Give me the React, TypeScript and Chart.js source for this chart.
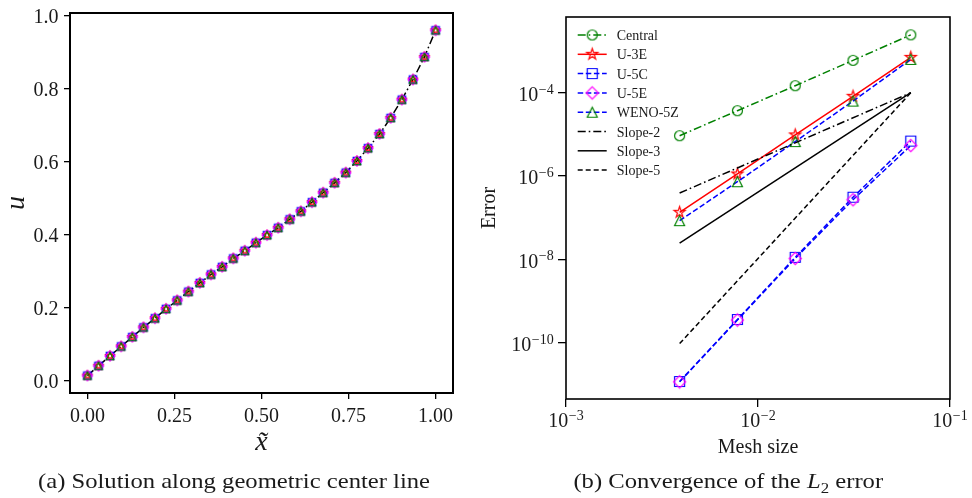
import React, { useEffect, useRef } from "react";
import { Chart, registerables } from "chart.js";

Chart.register(...registerables);

const SERIF = "'Liberation Serif', 'Times New Roman', serif";
const INK = "#1a1a1a";

// ---------- (a) solution along the geometric centre line ----------
const xTilde = [
  0.0, 0.032, 0.065, 0.097, 0.129, 0.161, 0.194, 0.226, 0.258, 0.29, 0.323,
  0.355, 0.387, 0.419, 0.452, 0.484, 0.516, 0.548, 0.581, 0.613, 0.645, 0.677,
  0.71, 0.742, 0.774, 0.806, 0.839, 0.871, 0.903, 0.935, 0.968, 1.0,
];
const uCentre = [
  0.014, 0.041, 0.068, 0.094, 0.12, 0.146, 0.171, 0.197, 0.22, 0.244, 0.268,
  0.291, 0.312, 0.335, 0.356, 0.378, 0.399, 0.419, 0.442, 0.464, 0.489, 0.515,
  0.542, 0.57, 0.602, 0.637, 0.676, 0.72, 0.77, 0.825, 0.887, 0.96,
];
const xTickValues = [0, 0.25, 0.5, 0.75, 1.0];
const xTickLabels = ["0.00", "0.25", "0.50", "0.75", "1.00"];
const uTickValues = [0, 0.2, 0.4, 0.6, 0.8, 1.0];
const uTickLabels = ["0.0", "0.2", "0.4", "0.6", "0.8", "1.0"];

// ---------- (b) convergence of the L2 error ----------
const meshSize = [0.00390625, 0.0078125, 0.015625, 0.03125, 0.0625];
const errCentral = [9.3e-6, 3.7e-5, 1.47e-4, 5.98e-4, 2.45e-3];
const errU3E = [1.35e-7, 1.12e-6, 9.7e-6, 8.2e-5, 7.06e-4];
const errU5C = [1.17e-11, 3.6e-10, 1.12e-8, 3.1e-7, 6.9e-6];
const errU5E = [1.15e-11, 3.5e-10, 1.05e-8, 2.7e-7, 5.4e-6];
const errWENO5Z = [8.5e-8, 7.3e-7, 6.7e-6, 6.3e-5, 6.3e-4];

const slopeMesh = [0.00390625, 0.0625];
const slope2 = [3.91e-7, 1.0e-4];
const slope3 = [2.44e-8, 1.0e-4];
const slope5 = [9.54e-11, 1.0e-4];

const meshTickValues = [1e-3, 1e-2, 1e-1];
const meshTickExps = ["\u22123", "\u22122", "\u22121"];
const errTickValues = [1e-10, 1e-8, 1e-6, 1e-4];
const errTickExps = ["\u221210", "\u22128", "\u22126", "\u22124"];

// ---------- styles ----------
const GREEN = "#008000";
const RED = "#ff0000";
const BLUE = "#0000ff";
const MAGENTA = "#ff00ff";
const BLACK = "#000000";
const DASHED = [5.5, 2.6];
const DASH_DOT = [8, 3, 1.6, 3];

type MarkerKind = "circle" | "star" | "square" | "diamond" | "triangle" | "none";

function markerImage(kind: MarkerKind, size: number, color: string, lw: number, diamondScale = 1.22): HTMLCanvasElement {
  const dim = Math.ceil(size * 1.8 + lw * 2 + 2);
  const c = document.createElement("canvas");
  c.width = dim;
  c.height = dim;
  const g = c.getContext("2d")!;
  const m = dim / 2;
  const h = size / 2;
  g.strokeStyle = color;
  g.lineWidth = lw;
  g.lineJoin = "miter";
  g.beginPath();
  if (kind === "circle") {
    g.arc(m, m, h, 0, Math.PI * 2);
  } else if (kind === "square") {
    g.rect(m - h, m - h, size, size);
  } else if (kind === "diamond") {
    const d = h * diamondScale;
    g.moveTo(m, m - d);
    g.lineTo(m + d, m);
    g.lineTo(m, m + d);
    g.lineTo(m - d, m);
    g.closePath();
  } else if (kind === "triangle") {
    g.moveTo(m, m - h);
    g.lineTo(m + h, m + h);
    g.lineTo(m - h, m + h);
    g.closePath();
  } else if (kind === "star") {
    const ro = h * 1.15;
    const ri = ro * 0.382;
    for (let k = 0; k < 10; k++) {
      const r = k % 2 === 0 ? ro : ri;
      const ang = -Math.PI / 2 + (k * Math.PI) / 5;
      const px = m + r * Math.cos(ang);
      const py = m + r * Math.sin(ang);
      if (k === 0) g.moveTo(px, py);
      else g.lineTo(px, py);
    }
    g.closePath();
  }
  g.stroke();
  return c;
}

interface SeriesStyle {
  label: string;
  line: string;
  marker: MarkerKind;
  markerColor: string;
  dash: number[];
}

const convergenceSeries: { style: SeriesStyle; x: number[]; y: number[] }[] = [
  { style: { label: "Central", line: GREEN, marker: "circle", markerColor: GREEN, dash: DASH_DOT }, x: meshSize, y: errCentral },
  { style: { label: "U-3E", line: RED, marker: "star", markerColor: RED, dash: [] }, x: meshSize, y: errU3E },
  { style: { label: "U-5C", line: BLUE, marker: "square", markerColor: BLUE, dash: DASHED }, x: meshSize, y: errU5C },
  { style: { label: "U-5E", line: BLUE, marker: "diamond", markerColor: MAGENTA, dash: DASHED }, x: meshSize, y: errU5E },
  { style: { label: "WENO-5Z", line: BLUE, marker: "triangle", markerColor: GREEN, dash: DASHED }, x: meshSize, y: errWENO5Z },
  { style: { label: "Slope-2", line: BLACK, marker: "none", markerColor: BLACK, dash: DASH_DOT }, x: slopeMesh, y: slope2 },
  { style: { label: "Slope-3", line: BLACK, marker: "none", markerColor: BLACK, dash: [] }, x: slopeMesh, y: slope3 },
  { style: { label: "Slope-5", line: BLACK, marker: "none", markerColor: BLACK, dash: [5, 3] }, x: slopeMesh, y: slope5 },
];

const centreMarkers: { label: string; marker: MarkerKind; color: string }[] = [
  { label: "Central", marker: "circle", color: GREEN },
  { label: "U-3E", marker: "star", color: RED },
  { label: "U-5C", marker: "square", color: BLUE },
  { label: "U-5E", marker: "diamond", color: MAGENTA },
  { label: "WENO-5Z", marker: "triangle", color: GREEN },
];

function tickAxis(tickLength: number, values: number[], extra: Record<string, unknown>) {
  return {
    bounds: "data",
    grid: {
      display: true,
      drawOnChartArea: false,
      drawTicks: true,
      tickLength,
      color: BLACK,
      lineWidth: 1.3,
    },
    border: { display: false },
    ticks: { display: false },
    afterBuildTicks: (scale: any) => {
      scale.ticks = values.map((v) => ({ value: v }));
    },
    ...extra,
  };
}

// Axis frame, tick labels and axis titles for panel (a)
const panelAPlugin = {
  id: "panelA",
  afterDraw(chart: any) {
    const { ctx, chartArea: a, scales } = chart;
    ctx.save();
    ctx.lineWidth = 2;
    ctx.strokeStyle = BLACK;
    ctx.strokeRect(a.left, a.top, a.right - a.left, a.bottom - a.top);

    ctx.fillStyle = INK;
    ctx.font = `20px ${SERIF}`;
    ctx.textBaseline = "alphabetic";
    ctx.textAlign = "right";
    uTickValues.forEach((v, i) => {
      ctx.fillText(uTickLabels[i], a.left - 11.5, scales.y.getPixelForValue(v) + 7);
    });
    ctx.textAlign = "center";
    xTickValues.forEach((v, i) => {
      ctx.fillText(xTickLabels[i], scales.x.getPixelForValue(v), a.bottom + 28.5);
    });

    ctx.font = `italic 28px ${SERIF}`;
    ctx.save();
    ctx.translate(23.5, (a.top + a.bottom) / 2);
    ctx.rotate(-Math.PI / 2);
    ctx.textAlign = "center";
    ctx.fillText("u", 0, 0);
    ctx.restore();
    ctx.textAlign = "center";
    ctx.fillText("x\u0303", (a.left + a.right) / 2, a.bottom + 57);
    ctx.restore();
  },
};

// Axis frame, power-of-ten labels, titles and the in-plot legend for panel (b)
const panelBPlugin = {
  id: "panelB",
  afterDraw(chart: any) {
    const { ctx, chartArea: a, scales } = chart;
    ctx.save();
    ctx.lineWidth = 1.6;
    ctx.strokeStyle = BLACK;
    ctx.strokeRect(a.left, a.top, a.right - a.left, a.bottom - a.top);

    ctx.fillStyle = INK;
    ctx.textBaseline = "alphabetic";
    const base = `20px ${SERIF}`;
    const sup = `14px ${SERIF}`;

    // y: 10^n labels, right aligned
    const yRight = a.left - 12.3;
    errTickValues.forEach((v, i) => {
      const py = scales.y.getPixelForValue(v);
      ctx.font = sup;
      const ew = ctx.measureText(errTickExps[i]).width;
      ctx.textAlign = "left";
      ctx.fillText(errTickExps[i], yRight - ew, py + 1);
      ctx.font = base;
      ctx.textAlign = "right";
      ctx.fillText("10", yRight - ew - 0.5, py + 8.3);
    });

    // x: 10^n labels, centred on the tick
    meshTickValues.forEach((v, i) => {
      const px = scales.x.getPixelForValue(v);
      ctx.font = base;
      const bw = ctx.measureText("10").width;
      ctx.font = sup;
      const ew = ctx.measureText(meshTickExps[i]).width;
      const left = px - (bw + ew + 0.5) / 2;
      ctx.textAlign = "left";
      ctx.font = base;
      ctx.fillText("10", left, a.bottom + 27.7);
      ctx.font = sup;
      ctx.fillText(meshTickExps[i], left + bw + 0.5, a.bottom + 21);
    });

    // axis titles
    ctx.font = `20px ${SERIF}`;
    ctx.textAlign = "center";
    ctx.fillText("Mesh size", (a.left + a.right) / 2, a.bottom + 53.5);
    ctx.save();
    ctx.translate(15, (a.top + a.bottom) / 2);
    ctx.rotate(-Math.PI / 2);
    ctx.fillText("Error", 0, 0);
    ctx.restore();

    // legend
    const x0 = a.left + 11.7;
    const x1 = a.left + 40.7;
    const tx = a.left + 50.7;
    const rowTop = a.top + 18;
    const rowGap = 19.3;
    ctx.font = `14px ${SERIF}`;
    ctx.textAlign = "left";
    chart.data.datasets.forEach((ds: any, i: number) => {
      const y = rowTop + i * rowGap;
      ctx.save();
      ctx.strokeStyle = ds.borderColor;
      ctx.lineWidth = ds.borderWidth;
      ctx.setLineDash(ds.borderDash || []);
      ctx.beginPath();
      ctx.moveTo(x0, y);
      ctx.lineTo(x1, y);
      ctx.stroke();
      ctx.restore();
      if (ds.pointRadius > 0 && ds.pointStyle) {
        const img = ds.pointStyle as HTMLCanvasElement;
        ctx.drawImage(img, (x0 + x1) / 2 - img.width / 2, y - img.height / 2);
      }
      ctx.fillStyle = INK;
      ctx.fillText(ds.label, tx, y + 5);
    });
    ctx.restore();
  },
};

function buildPanelA(canvas: HTMLCanvasElement) {
  const pts = xTilde.map((x, i) => ({ x, y: uCentre[i] }));
  const n = centreMarkers.length;
  const datasets: any[] = [
    {
      label: "reference",
      data: pts,
      showLine: true,
      borderColor: BLACK,
      borderWidth: 1.5,
      borderDash: DASH_DOT,
      pointRadius: 0,
      order: n + 1,
    },
    ...centreMarkers.map((m, i) => ({
      label: m.label,
      data: pts,
      showLine: false,
      pointStyle: markerImage(m.marker, 7.5, m.color, 1.2, 1.35),
      pointRadius: 4,
      order: n - i,
    })),
  ];
  return new Chart(canvas, {
    type: "scatter",
    data: { datasets },
    options: {
      responsive: false,
      animation: false,
      devicePixelRatio: 1,
      events: [],
      layout: { padding: { left: 64, right: 27, top: 13, bottom: 99 } },
      plugins: { legend: { display: false }, tooltip: { enabled: false } },
      scales: {
        x: tickAxis(6, xTickValues, { type: "linear", position: "bottom", min: -0.05, max: 1.05 }),
        y: tickAxis(6, uTickValues, { type: "linear", position: "left", min: -0.0336, max: 1.0073 }),
      },
    } as any,
    plugins: [panelAPlugin],
  });
}

function buildPanelB(canvas: HTMLCanvasElement) {
  const n = convergenceSeries.length;
  const datasets: any[] = convergenceSeries.map((s, i) => ({
    label: s.style.label,
    data: s.x.map((x, k) => ({ x, y: s.y[k] })),
    showLine: true,
    borderColor: s.style.line,
    borderWidth: 1.5,
    borderDash: s.style.dash,
    pointStyle: s.style.marker === "none" ? false : markerImage(s.style.marker, 10, s.style.markerColor, 1.2),
    pointRadius: s.style.marker === "none" ? 0 : 5,
    order: n - i,
  }));
  return new Chart(canvas, {
    type: "scatter",
    data: { datasets },
    options: {
      responsive: false,
      animation: false,
      devicePixelRatio: 1,
      events: [],
      layout: { padding: { left: 78, right: 22, top: 17, bottom: 91 } },
      plugins: { legend: { display: false }, tooltip: { enabled: false } },
      scales: {
        x: tickAxis(8, meshTickValues, { type: "logarithmic", position: "bottom", min: 1e-3, max: 1e-1 }),
        y: tickAxis(8, errTickValues, {
          type: "logarithmic",
          position: "left",
          min: Math.pow(10, -11.351),
          max: Math.pow(10, -2.183),
        }),
      },
    } as any,
    plugins: [panelBPlugin],
  });
}

const captionBox: React.CSSProperties = {
  position: "absolute",
  top: 468,
  textAlign: "center",
  fontFamily: SERIF,
  fontSize: 22,
  lineHeight: "26px",
  color: INK,
  whiteSpace: "nowrap",
};
const captionInner: React.CSSProperties = {
  display: "inline-block",
  transform: "scaleX(1.12)",
  transformOrigin: "center",
};

export default function App() {
  const refA = useRef<HTMLCanvasElement>(null);
  const refB = useRef<HTMLCanvasElement>(null);

  useEffect(() => {
    const a = buildPanelA(refA.current!);
    const b = buildPanelB(refB.current!);
    return () => {
      a.destroy();
      b.destroy();
    };
  }, []);

  return (
    <div
      style={{
        position: "absolute",
        left: 0,
        top: 0,
        width: 972,
        height: 498,
        background: "#ffffff",
        overflow: "hidden",
      }}
    >
      <canvas ref={refA} width={480} height={498} style={{ position: "absolute", left: 0, top: 0 }} />
      <canvas ref={refB} width={492} height={498} style={{ position: "absolute", left: 480, top: 0 }} />
      <div style={{ ...captionBox, left: 0, width: 469 }}>
        <span style={captionInner}>(a) Solution along geometric center line</span>
      </div>
      <div style={{ ...captionBox, left: 480, width: 497 }}>
        <span style={captionInner}>
          (b) Convergence of the <i>L</i>
          <span style={{ fontSize: 15, position: "relative", top: 5 }}>2</span> error
        </span>
      </div>
    </div>
  );
}
